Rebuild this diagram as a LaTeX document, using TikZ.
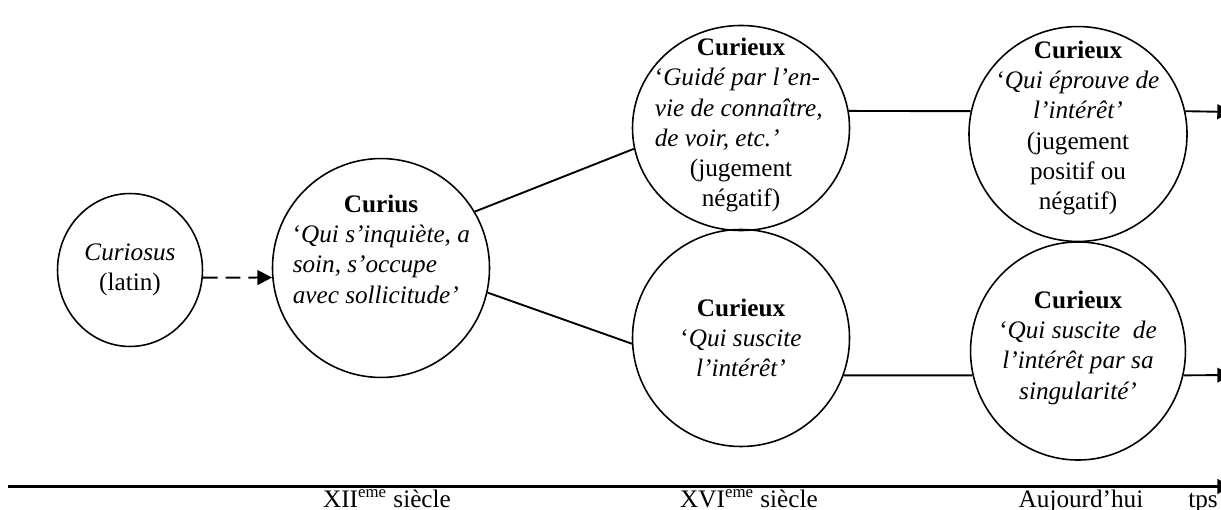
\documentclass[tikz,border=0pt]{standalone}
\usepackage{fontspec}
\setmainfont{Liberation Serif}
\usetikzlibrary{arrows.meta,shapes.geometric}

\tikzset{
	bulle/.style={draw, ellipse, line width=0.75pt, inner sep=0pt},
	texte/.style={align=center, inner sep=0pt, font=\fontsize{12}{14.4}\selectfont},
	lien/.style={line width=0.9pt},
	fleche/.style={line width=0.9pt, -{Triangle[length=7pt,width=7pt]}},
}

\begin{document}
\begin{tikzpicture}[x=0.476pt, y=-0.476pt]
	\useasboundingbox (0,0) rectangle (1221,510);
	\node[bulle, minimum width=69pt, minimum height=72.8pt] (curiosus) at (130,270) {};
	\node[bulle, minimum width=103.3pt, minimum height=104.2pt] (curius) at (381,268) {};
	\node[bulle, minimum width=103.3pt, minimum height=97.6pt] (topL) at (741,128) {};
	\node[bulle, minimum width=103.3pt, minimum height=103.3pt] (botL) at (741,338) {};
	\node[bulle, minimum width=103.8pt, minimum height=102.3pt] (topR) at (1078,134) {};
	\node[bulle, minimum width=102.3pt, minimum height=103.8pt] (botR) at (1078,351) {};

	\node[texte] (curiosusT) at (curiosus) {\textit{Curiosus}\\(latin)};
	\node[texte] (curiusT) at ([yshift=9pt]curius.center) {\textbf{Curius}\\
		\makebox[84pt][l]{`\textit{Qui s'inquiète, a}}\\
		\makebox[84pt][l]{\textit{soin, s'occupe}}\\
		\makebox[84pt][l]{\textit{avec sollicitude'}}};
	\node[texte] (topLT) at ([yshift=1.3pt]topL.center) {\textbf{Curieux}\\
		\makebox[82pt][l]{`\textit{Guidé par l'en-}}\\
		\makebox[82pt][l]{\textit{vie de connaître,}}\\
		\makebox[82pt][l]{\textit{de voir, etc.'}}\\
		(jugement\\négatif)};
	\node[texte] (botLT) at (botL) {\textbf{Curieux}\\`\textit{Qui suscite}\\\textit{l'intérêt'}};
	\node[texte] (topRT) at ([yshift=2.9pt]topR.center) {\textbf{Curieux}\\`\textit{Qui éprouve de}\\\textit{l'intérêt'}\\(jugement\\positif ou\\négatif)};
	\node[texte] (botRT) at ([yshift=1.6pt]botR.center) {\textbf{Curieux}\\`\textit{Qui suscite~ de}\\\textit{l'intérêt par sa}\\\textit{singularité'}};

	\draw[fleche, dash pattern=on 7pt off 3.8pt] (curiosus.-6) -- (curius.185);
	\draw[lien] (curius.31) -- (topL.191);
	\draw[lien] (curius.-13) -- (botL.183);
	\draw[lien] (topL.9) -- (topR.168);
	\draw[lien] (botL.-20) -- (botR.193);
	\coordinate (finH) at (1232,112);
	\coordinate (finB) at (1232,375);
	\draw[fleche] (topR.12) -- (finH);
	\draw[fleche] (botR.-13) -- (finB);

	\coordinate (debut) at (8,486.5);
	\coordinate (fin) at (1232,486.5);
	\draw[fleche, line width=1pt] (debut) -- (fin);
	\node[texte, anchor=base] (xii) at (387,507) {XII\textsuperscript{ème} siècle};
	\node[texte, anchor=base] (xvi) at (749,507) {XVI\textsuperscript{ème} siècle};
	\node[texte, anchor=base] (auj) at (1081,507) {Aujourd'hui};
	\node[texte, anchor=base] (tps) at (1203,507) {tps};
\end{tikzpicture}
\end{document}
